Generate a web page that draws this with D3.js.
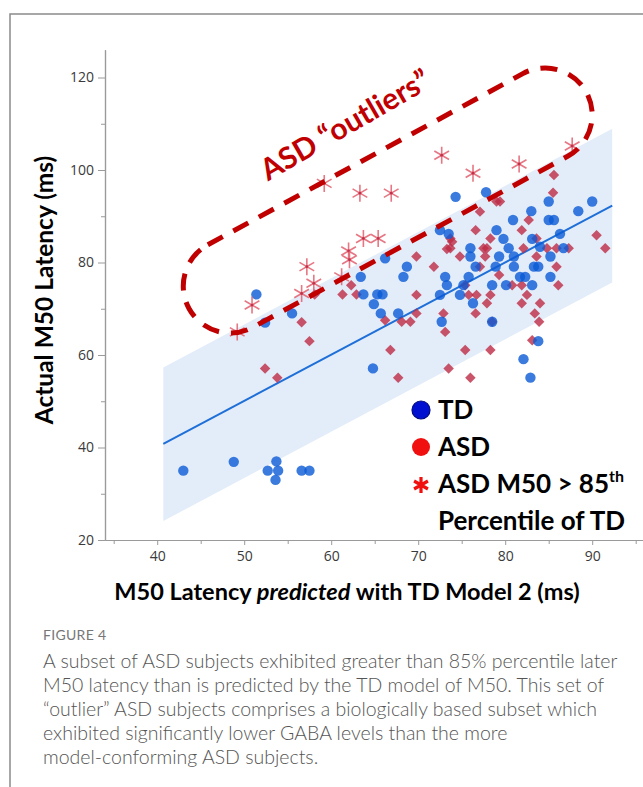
<!DOCTYPE html>
<html>
<head>
<meta charset="utf-8">
<script src="https://cdn.jsdelivr.net/npm/d3@7"></script>
<style>
body{margin:0;background:#fff;}
svg{display:block;font-family:Lato,"Open Sans",sans-serif;}
</style>
</head>
<body>
<svg id="chart" width="643" height="787"></svg>
<script>
// [predicted, actual] latency in ms
var tdPoints = [
  [43.0,35.0],[48.8,36.9],[52.7,35.0],[53.7,37.0],[53.9,35.0],[53.6,33.0],[56.6,35.0],[57.5,35.0],
  [51.4,73.1],[52.4,67.0],[55.5,69.0],[63.4,76.9],[63.7,73.1],[65.3,73.1],[65.9,73.1],[64.9,71.0],
  [65.7,69.0],[66.2,80.9],[67.7,69.0],[64.8,57.1],[68.3,76.9],[68.7,79.1],
  [74.3,94.2],[77.8,95.2],[72.5,87.0],[73.5,86.2],[79.0,87.0],[79.8,85.1],[76.0,83.1],[83.1,85.1],
  [84.0,83.4],[85.0,93.2],[85.0,89.2],[85.6,89.2],[86.3,86.2],[86.7,83.1],[88.4,91.1],[90.0,93.2],
  [83.0,91.1],[80.9,89.2],[80.4,83.1],
  [72.5,73.0],[73.1,76.9],[73.3,75.1],[72.7,67.2],[74.8,73.0],[75.2,75.1],[75.8,76.9],[76.0,81.3],
  [76.6,79.1],[76.3,71.2],[78.5,75.1],[78.5,67.2],[78.9,79.1],[79.3,81.3],[80.1,75.1],[81.0,79.1],
  [81.0,81.3],[81.7,76.9],[82.3,76.9],[83.1,75.1],[83.3,79.1],[83.8,79.1],[85.2,81.3],[85.2,76.9],
  [83.8,63.0],[82.1,59.1],[82.9,55.1]
];
var asdPoints = [
  [62.3,75.1],[61.3,73.1],[62.9,73.1],[58.1,73.1],[56.6,67.1],[57.5,63.0],[52.4,57.1],[53.8,55.1],
  [66.8,61.1],[67.7,55.1],[66.2,67.5],
  [69.8,81.3],[71.8,79.1],[69.8,73.0],[68.1,67.2],[69.1,67.2],[69.8,69.0],[72.9,69.0],[73.1,65.0],
  [73.5,57.1],[75.4,61.1],[76.0,55.1],[76.6,69.0],[74.8,81.3],[76.6,87.0],[73.7,85.2],[73.7,83.1],
  [75.8,73.0],[76.7,73.0],[75.4,75.1],[77.9,71.2],[78.3,73.0],[78.5,67.2],[78.3,61.1],[77.1,79.1],
  [77.7,81.3],[77.9,83.1],[78.3,85.2],[79.3,77.3],[80.8,75.1],[81.9,75.1],[82.1,83.1],[82.5,73.0],
  [81.9,71.2],[84.0,71.2],[83.4,69.0],[83.9,67.2],[83.1,63.2],[85.9,79.1],[86.1,75.1],[83.6,85.2],
  [84.8,83.1],[85.9,83.1],[87.3,83.1],[90.5,85.9],[91.5,83.1],[83.6,81.3],
  [85.6,98.9],[85.5,95.1],[79.0,93.2],[79.4,93.2],[77.1,91.0],[82.7,89.2],[81.9,87.0],[77.5,83.1],
  [73.9,84.5],[73.3,82.9]
];
var outlierPoints = [
  [49.2,65.0],[50.9,70.8],[57.2,79.1],[58.0,75.5],[56.6,73.3],[61.2,76.9],[62.0,82.5],[62.1,80.6],
  [63.7,85.2],[65.4,85.2],[59.2,97.1],[63.3,95.0],[66.9,95.0],[72.7,103.2],[76.3,99.3],[81.6,101.3],
  [87.7,105.2]
];

// TD model fit and its band
var fitX = [40.7, 92.3];
var fitY = [40.8, 92.3];
var bandLow = [24.1, 75.7];
var bandHigh = [57.3, 108.9];

var xMajor = [40, 50, 60, 70, 80, 90];
var xMinor = [35, 45, 55, 65, 75, 85, 95];
var yMajor = [20, 40, 60, 80, 100, 120];
var yMinor = [30, 50, 70, 90, 110];

// centres of the dashed "outliers" capsule, in data units
var zoneEnds = [[48.4, 74.9], [84.6, 111.9]];
var zoneLabel = [62.2, 107.8];

var captionLines = [
  "A subset of ASD subjects exhibited greater than 85% percentile later",
  "M50 latency than is predicted by the TD model of M50. This set of",
  "\u201coutlier\u201d ASD subjects comprises a biologically based subset which",
  "exhibited significantly lower GABA levels than the more",
  "model-conforming ASD subjects."
];

var svg = d3.select("#chart");

var x = d3.scaleLinear().domain([34, 96]).range([105, 644.4]);
var y = d3.scaleLinear().domain([20, 126]).range([540, 49.75]);

// figure frame
svg.append("path")
  .attr("d", "M10,787V14H643")
  .attr("fill", "none")
  .attr("stroke", "#8a8a8a")
  .attr("stroke-width", 1.5);

// band
var bandData = fitX.map(function (v, i) { return { x: v, lo: bandLow[i], hi: bandHigh[i] }; });
svg.append("path")
  .datum(bandData)
  .attr("fill", "#e3edf9")
  .attr("d", d3.area().x(function (d) { return x(d.x); })
    .y0(function (d) { return y(d.lo); })
    .y1(function (d) { return y(d.hi); }));

svg.append("path")
  .datum(fitX.map(function (v, i) { return [v, fitY[i]]; }))
  .attr("fill", "none")
  .attr("stroke", "#1f6fd8")
  .attr("stroke-width", 2)
  .attr("d", d3.line().x(function (d) { return x(d[0]); }).y(function (d) { return y(d[1]); }));

// axes
function styleAxis(g) {
  g.selectAll("path.domain").attr("stroke", "#9a9a9a").attr("stroke-width", 1.2);
  g.selectAll(".tick line").attr("stroke", "#9a9a9a");
  g.selectAll("text").attr("fill", "#3a3a3a").style("font-family", "'Open Sans', sans-serif").style("font-size", "14px");
}

svg.append("g")
  .attr("transform", "translate(0,540)")
  .call(d3.axisBottom(x).tickValues(xMinor).tickSize(4).tickSizeOuter(0).tickFormat(""))
  .call(styleAxis);
svg.append("g")
  .attr("transform", "translate(0,540)")
  .call(d3.axisBottom(x).tickValues(xMajor).tickSize(5).tickSizeOuter(0).tickPadding(6))
  .call(styleAxis);

svg.append("g")
  .attr("transform", "translate(105,0)")
  .call(d3.axisLeft(y).tickValues(yMinor).tickSize(4).tickSizeOuter(0).tickFormat(""))
  .call(styleAxis);
svg.append("g")
  .attr("transform", "translate(105,0)")
  .call(d3.axisLeft(y).tickValues(yMajor).tickSize(7).tickSizeOuter(0).tickPadding(4))
  .call(styleAxis);

// points
svg.append("g").selectAll("path")
  .data(asdPoints)
  .enter().append("path")
  .attr("d", d3.symbol(d3.symbolSquare, 55))
  .attr("transform", function (d) { return "translate(" + x(d[0]) + "," + y(d[1]) + ") rotate(45)"; })
  .attr("fill", "#bd2a45")
  .attr("opacity", 0.8);

svg.append("g").selectAll("circle")
  .data(tdPoints)
  .enter().append("circle")
  .attr("cx", function (d) { return x(d[0]); })
  .attr("cy", function (d) { return y(d[1]); })
  .attr("r", 5.2)
  .attr("fill", "#0a5ad6")
  .attr("opacity", 0.8);

function starPath(r) {
  return d3.range(3).map(function (i) {
    var a = Math.PI / 2 + i * Math.PI / 3;
    return "M" + (-r * Math.cos(a)) + "," + (-r * Math.sin(a)) + "L" + (r * Math.cos(a)) + "," + (r * Math.sin(a));
  }).join("");
}

var stars = svg.append("g").selectAll("g")
  .data(outlierPoints)
  .enter().append("g")
  .attr("transform", function (d) { return "translate(" + x(d[0]) + "," + y(d[1]) + ")"; });
stars.append("path")
  .attr("d", starPath(8.5))
  .attr("stroke", "#e2606f")
  .attr("stroke-width", 1.6)
  .attr("opacity", 0.85);
stars.append("circle").attr("r", 1.4).attr("fill", "#c4304a");

// dashed outlier zone
var c1 = [x(zoneEnds[0][0]), y(zoneEnds[0][1])];
var c2 = [x(zoneEnds[1][0]), y(zoneEnds[1][1])];
var R = 47;
var len = Math.hypot(c2[0] - c1[0], c2[1] - c1[1]);
var ux = (c2[0] - c1[0]) / len, uy = (c2[1] - c1[1]) / len;
var px = uy * R, py = -ux * R;
var zp = "M" + (c1[0] + px) + "," + (c1[1] + py) +
  "L" + (c2[0] + px) + "," + (c2[1] + py) +
  "A" + R + "," + R + " 0 0 1 " + (c2[0] - px) + "," + (c2[1] - py) +
  "L" + (c1[0] - px) + "," + (c1[1] - py) +
  "A" + R + "," + R + " 0 0 1 " + (c1[0] + px) + "," + (c1[1] + py) + "Z";
svg.append("path")
  .attr("d", zp)
  .attr("fill", "none")
  .attr("stroke", "#c00000")
  .attr("stroke-width", 5)
  .attr("stroke-dasharray", "17,12");

svg.append("text")
  .attr("transform", "translate(" + x(zoneLabel[0]) + "," + y(zoneLabel[1]) + ") rotate(-30)")
  .attr("text-anchor", "middle")
  .attr("fill", "#c00000")
  .style("font-weight", "bold")
  .style("font-size", "30px")
  .text("ASD \u201coutliers\u201d");

// legend
var legend = svg.append("g").style("font-weight", "bold").style("font-size", "26px").attr("fill", "#000");
legend.append("circle").attr("cx", 421).attr("cy", 410).attr("r", 9)
  .attr("fill", "#0010d0").attr("stroke", "#000a80").attr("stroke-width", 1.2);
legend.append("text").attr("x", 438).attr("y", 419).text("TD");
legend.append("circle").attr("cx", 421).attr("cy", 447).attr("r", 9).attr("fill", "#f01010");
legend.append("text").attr("x", 438).attr("y", 456).text("ASD");
legend.append("path").attr("transform", "translate(421,485)").attr("d", starPath(8))
  .attr("stroke", "#f01010").attr("stroke-width", 3.2);
var lt = legend.append("text").attr("x", 438).attr("y", 493);
lt.append("tspan").text("ASD M50 > 85");
lt.append("tspan").attr("dy", -11).style("font-size", "16px").text("th");
legend.append("text").attr("x", 438).attr("y", 530).text("Percentile of TD");

// axis titles
var xt = svg.append("text")
  .attr("x", 347).attr("y", 600)
  .attr("text-anchor", "middle")
  .style("font-weight", "bold")
  .style("font-size", "23.5px");
xt.append("tspan").text("M50 Latency ");
xt.append("tspan").style("font-style", "italic").text("predicted");
xt.append("tspan").text(" with TD Model 2 (ms)");

svg.append("text")
  .attr("transform", "translate(53,290) rotate(-90)")
  .attr("text-anchor", "middle")
  .style("font-weight", "bold")
  .style("font-size", "24.5px")
  .text("Actual M50 Latency (ms)");

// caption
svg.append("text")
  .attr("x", 43).attr("y", 640)
  .attr("fill", "#777")
  .style("font-size", "14px")
  .style("letter-spacing", "0.3px")
  .text("FIGURE 4");

svg.append("g").selectAll("text")
  .data(captionLines)
  .enter().append("text")
  .attr("x", 43)
  .attr("y", function (d, i) { return 668 + i * 24; })
  .attr("fill", "#555")
  .style("font-size", "19.5px")
  .style("font-weight", 300)
  .text(function (d) { return d; });
</script>
</body>
</html>
